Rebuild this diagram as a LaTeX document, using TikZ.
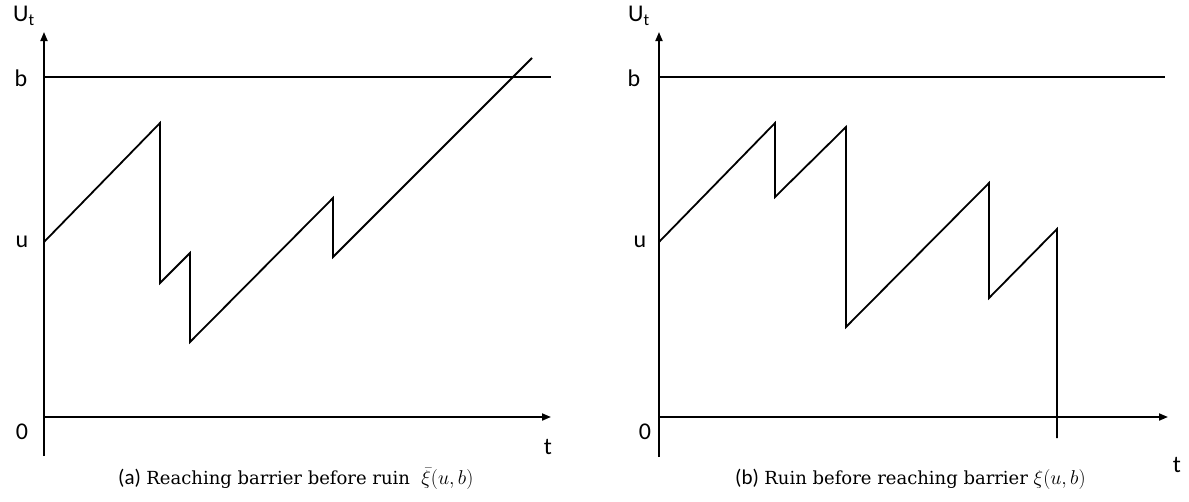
\RequirePackage{fix-cm}
\documentclass[tikz,border=0pt]{standalone}
\usepackage{fontspec}
\setsansfont{Carlito}
\newfontfamily\capserif{DejaVu Serif}
\usetikzlibrary{arrows.meta}
\begin{document}
\begin{tikzpicture}[x=1pt,y=-1pt,
  ax/.style={line width=1.8pt,-{Triangle[width=7pt,length=9pt]}},
  ln/.style={line width=1.8pt},
  curvepath/.style={line width=1.8pt,line join=miter},
  lab/.style={font=\sffamily\fontsize{24}{26}\selectfont,inner sep=0pt},
  captext/.style={font=\fontsize{18}{21}\selectfont,inner sep=0pt,anchor=west}]
\useasboundingbox (0,0) rectangle (1189,501);
% ---------- panel (a)
\coordinate (ya0) at (44,456);
\coordinate (ya1) at (44,32);
\coordinate (xa0) at (44,417);
\coordinate (xa1) at (551,417);
\coordinate (ba0) at (44,77);
\coordinate (ba1) at (551,77);
\draw[ax] (ya0) -- (ya1);
\draw[ax] (xa0) -- (xa1);
\draw[ln] (ba0) -- (ba1);
\node[lab] (Ua) at (24,16) {U\textsubscript{t}};
\node[lab] (bla) at (21,78) {b};
\node[lab] (ula) at (22,242) {u};
\node[lab] (zla) at (22,432) {0};
\node[lab] (tla) at (548,447) {t};
\coordinate (pa0) at (44,242);
\draw[curvepath] (pa0) -- (160,123) -- (160,283) -- (190,253) -- (190,342) -- (333,198) -- (333,257) -- (532,58);
\node[captext] (capa) at (118,479) {{\sffamily\fontsize{21}{23}\selectfont(a)}\ \capserif Reaching barrier before ruin \ {\fontsize{20}{23}\selectfont$\bar{\xi}(u,b)$}};
% ---------- panel (b)
\coordinate (yb0) at (659,457);
\coordinate (yb1) at (659,32);
\coordinate (xb0) at (659,417);
\coordinate (xb1) at (1168,417);
\coordinate (bb0) at (659,77);
\coordinate (bb1) at (1165,77);
\draw[ax] (yb0) -- (yb1);
\draw[ax] (xb0) -- (xb1);
\draw[ln] (bb0) -- (bb1);
\node[lab] (Ub) at (639,16) {U\textsubscript{t}};
\node[lab] (blb) at (634,78) {b};
\node[lab] (ulb) at (640,242) {u};
\node[lab] (zlb) at (645,432) {0};
\node[lab] (tlb) at (1177,465) {t};
\coordinate (pb0) at (659,242);
\draw[curvepath] (pb0) -- (775,123) -- (775,197) -- (846,127) -- (846,327) -- (989,183) -- (989,298) -- (1057,229) -- (1057,438);
\node[captext] (capb) at (735,479) {{\sffamily\fontsize{21}{23}\selectfont(b)}\ \capserif Ruin before reaching barrier {\fontsize{20}{23}\selectfont$\xi(u,b)$}};
\end{tikzpicture}
\end{document}
